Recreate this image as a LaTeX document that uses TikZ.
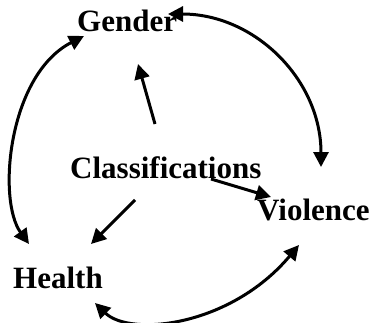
\documentclass[tikz,border=0pt]{standalone}
\usepackage{fontspec}
\setmainfont{Liberation Serif}
\usetikzlibrary{arrows.meta}
\begin{document}
\begin{tikzpicture}[x=1pt,y=-1pt,
  label/.style={font=\fontsize{31}{37}\selectfont\bfseries, inner sep=0pt, anchor=base west},
  link/.style={line width=3pt, -{Triangle[length=15pt,width=15pt]}},
  twoway/.style={line width=3pt, {Triangle[length=15pt,width=15pt]}-{Triangle[length=15pt,width=15pt]}}]
  \useasboundingbox (0,0) rectangle (374,323);
  % concepts
  \node[label] (gender) at (77,32) {Gender};
  \node[label] (class) at (70,178) {Classifications};
  \node[label] (viol) at (257,220) {Violence};
  \node[label] (health) at (13,288) {Health};
  % arrow end points
  \coordinate (cg) at (155,124);
  \coordinate (gc) at (138,64);
  \coordinate (ch) at (135,200);
  \coordinate (hc) at (91,244);
  \coordinate (cv) at (211,179);
  \coordinate (vc) at (271,197);
  \coordinate (gv) at (168,14);
  \coordinate (vg) at (321,167);
  \coordinate (gh) at (84,36);
  \coordinate (hg) at (29,244);
  \coordinate (hv) at (95,303);
  \coordinate (vh) at (299,245);
  % from the centre outwards
  \draw[link] (cg) -- (gc);
  \draw[link] (ch) -- (hc);
  \draw[link] (cv) -- (vc);
  % links between the outer concepts
  \draw[twoway] (gv) .. controls (255,14) and (321,80) .. (vg);
  \draw[twoway] (gh) .. controls (8,75) and (-3,200) .. (hg);
  \draw[twoway] (hv) .. controls (130,337) and (230,327) .. (vh);
\end{tikzpicture}
\end{document}
